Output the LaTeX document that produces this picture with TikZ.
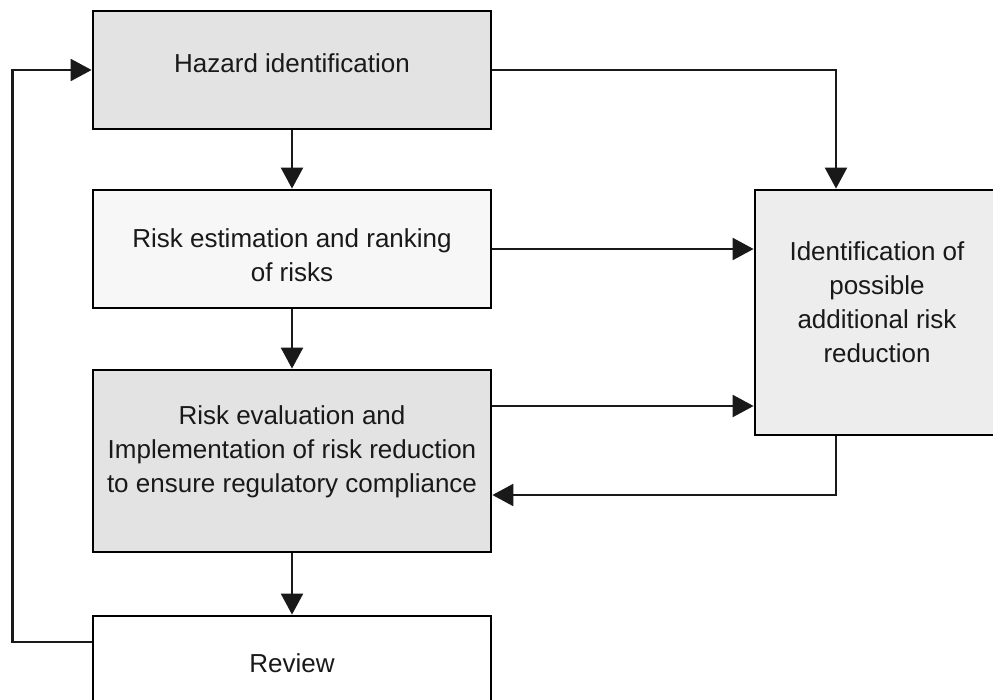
\documentclass[tikz,border=0pt]{standalone}
\usepackage{fontspec}
\setmainfont{Liberation Sans}
\usetikzlibrary{arrows.meta}
\begin{document}
\begin{tikzpicture}[x=1pt,y=-1pt,
  stepbox/.style={draw=black, line width=2.8pt, rectangle, inner sep=0pt},
  lbl/.style={align=center, inner sep=0pt, font=\fontsize{26}{34}\selectfont, text=black!90},
  conn/.style={line width=2.3pt, draw=black!90},
  arr/.style={conn, -{Triangle[length=21pt,width=22pt]}},
]
\useasboundingbox (0,0) rectangle (993,700);
\clip (0,0) rectangle (993,700);
\fill[white] (0,0) rectangle (993,700);

\node[stepbox, fill=gray!22, minimum width=398pt, minimum height=118pt,
  label={[lbl, yshift=7pt]center:Hazard identification}] (haz) at (292,70) {};
\node[stepbox, fill=gray!6, minimum width=398pt, minimum height=118pt,
  label={[lbl, yshift=-6pt]center:{Risk estimation and ranking\\of risks}}] (est) at (292,249) {};
\node[stepbox, fill=gray!22, minimum width=398pt, minimum height=182pt,
  label={[lbl, yshift=9pt]center:{Risk evaluation and\\Implementation of risk reduction\\to ensure regulatory compliance}}] (eval) at (292,461) {};
\node[stepbox, fill=white, minimum width=398pt, minimum height=110pt,
  label={[lbl, yshift=8pt]center:Review}] (rev) at (292,671) {};
\node[stepbox, fill=gray!14, minimum width=250pt, minimum height=245pt,
  label={[lbl, xshift=-3pt, yshift=10pt]center:{Identification of\\possible\\additional risk\\reduction}}] (ident) at (880,312.5) {};

\draw[arr] (haz.south) -- (est.north);
\draw[arr] (est.south) -- (eval.north);
\draw[arr] (eval.south) -- (rev.north);
\draw[arr] ([yshift=29pt]rev.west) -- ++(-79,0) |- (haz.west);
\draw[arr] (haz.east) -| ([xshift=-44pt]ident.north);
\draw[arr] (est.east) -- (est.east -| ident.west);
\draw[arr] ([yshift=55pt]eval.east) -- ([yshift=55pt]eval.east -| ident.west);
\draw[arr] ([xshift=-44pt]ident.south) |- ([yshift=-34pt]eval.east);
\end{tikzpicture}
\end{document}
